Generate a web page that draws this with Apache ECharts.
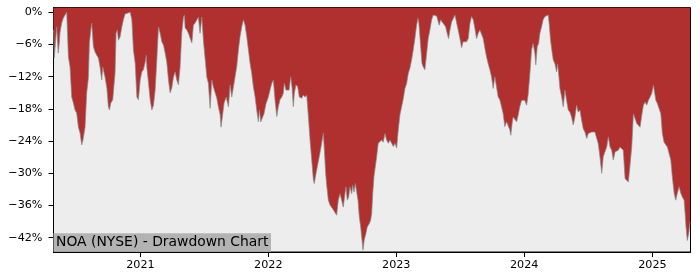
<!DOCTYPE html>
<html>
<head>
<meta charset="utf-8">
<script src="https://cdn.jsdelivr.net/npm/echarts@6/dist/echarts.min.js"></script>
<style>
html,body{margin:0;padding:0;background:#fff;}
#chart{width:700px;height:280px;}
</style>
</head>
<body>
<div id="chart"></div>
<script>
// Dates as decimal years
const years = [
2020.322,2020.328,2020.347,2020.352,2020.359,2020.367,2020.373,2020.386,2020.398,2020.412,2020.425,2020.438,2020.451,2020.464,2020.477,2020.490,2020.503,2020.516,2020.529,2020.542,
2020.552,2020.568,2020.581,2020.594,2020.602,2020.613,2020.620,2020.633,2020.646,2020.659,2020.672,2020.685,2020.698,2020.706,2020.716,2020.724,2020.738,2020.750,2020.758,2020.769,
2020.784,2020.795,2020.802,2020.810,2020.820,2020.828,2020.841,2020.855,2020.867,2020.880,2020.894,2020.920,2020.933,2020.945,2020.959,2020.972,2020.984,2020.998,
2021.011,2021.023,2021.037,2021.045,2021.050,2021.063,2021.076,2021.089,2021.102,2021.115,2021.128,2021.141,2021.154,2021.167,2021.180,2021.193,2021.206,2021.219,2021.232,2021.245,
2021.258,2021.271,2021.284,2021.297,2021.310,2021.323,2021.336,2021.344,2021.349,2021.363,2021.375,2021.388,2021.402,2021.414,2021.427,2021.441,2021.453,2021.466,2021.480,2021.492,
2021.505,2021.519,2021.531,2021.545,2021.558,2021.570,2021.584,2021.597,2021.609,2021.623,2021.630,2021.644,2021.654,2021.670,2021.688,2021.701,2021.714,2021.727,2021.740,2021.753,
2021.766,2021.779,2021.792,2021.805,2021.818,2021.831,2021.844,2021.857,2021.870,2021.883,2021.896,2021.909,2021.922,2021.930,2021.941,2021.956,2021.966,2021.982,
2022.000,2022.013,2022.027,2022.039,2022.052,2022.066,2022.078,2022.091,2022.105,2022.117,2022.125,2022.138,2022.148,2022.162,2022.175,2022.185,2022.195,2022.203,2022.216,2022.230,
2022.242,2022.261,2022.273,2022.287,2022.300,2022.313,2022.326,2022.339,2022.352,2022.359,2022.373,2022.383,2022.398,2022.417,2022.430,2022.438,2022.448,2022.456,2022.469,2022.482,
2022.495,2022.508,2022.521,2022.534,2022.547,2022.560,2022.573,2022.586,2022.599,2022.607,2022.617,2022.628,2022.638,2022.652,2022.659,2022.670,2022.680,2022.691,2022.701,2022.711,
2022.722,2022.732,2022.740,2022.750,2022.763,2022.773,2022.789,2022.800,2022.808,2022.816,2022.826,2022.836,2022.847,2022.859,2022.873,2022.886,2022.898,2022.912,2022.925,2022.938,
2022.951,2022.964,2022.977,2022.990,
2023.003,2023.016,2023.029,2023.042,2023.055,2023.068,2023.081,2023.094,2023.107,2023.120,2023.133,2023.146,2023.159,2023.170,2023.177,2023.191,2023.201,2023.211,2023.224,2023.238,
2023.250,2023.263,2023.277,2023.289,2023.302,2023.316,2023.328,2023.336,2023.347,2023.359,2023.373,2023.386,2023.398,2023.409,2023.420,2023.433,2023.445,2023.459,2023.472,2023.484,
2023.498,2023.511,2023.523,2023.537,2023.550,2023.563,2023.576,2023.589,2023.602,2023.615,2023.628,2023.641,2023.654,2023.667,2023.680,2023.693,2023.706,2023.719,2023.732,2023.745,
2023.758,2023.771,2023.784,2023.797,2023.810,2023.823,2023.836,2023.849,2023.863,2023.875,2023.888,2023.896,2023.906,2023.914,2023.927,2023.941,2023.953,2023.966,2023.980,2023.992,
2024.005,2024.019,2024.031,2024.045,2024.058,2024.070,2024.084,2024.091,2024.102,2024.113,2024.123,2024.136,2024.148,2024.162,2024.175,2024.188,2024.195,2024.206,2024.216,2024.227,
2024.240,2024.253,2024.261,2024.271,2024.279,2024.292,2024.305,2024.318,2024.331,2024.344,2024.357,2024.370,2024.383,2024.396,2024.409,2024.422,2024.435,2024.448,2024.461,2024.474,
2024.488,2024.500,2024.513,2024.527,2024.539,2024.552,2024.566,2024.578,2024.591,2024.605,2024.617,2024.630,2024.644,2024.656,2024.670,2024.683,2024.695,2024.709,2024.722,2024.734,
2024.748,2024.761,2024.773,2024.787,2024.800,2024.813,2024.826,2024.839,2024.852,2024.865,2024.878,2024.891,2024.904,2024.917,2024.930,2024.943,2024.956,2024.969,2024.982,2024.995,
2025.008,2025.016,2025.027,2025.039,2025.052,2025.066,2025.078,2025.091,2025.105,2025.117,2025.130,2025.144,2025.156,2025.170,2025.183,2025.195,2025.209,2025.222,2025.234,2025.248,2025.256,2025.263,2025.273,2025.284,2025.295
];

// Drawdown in percent
const drawdown = [
-3.3,-8.5,-2.7,-2.4,-7.6,-5.7,-3.7,-2.0,-1.1,-0.5,0,-8.3,-10.2,-15.8,-16.9,-18.2,-18.8,-21.4,-22.5,-24.7,
-23.8,-21.4,-15.0,-12.2,-5.7,-3.3,-2.0,-6.4,-7.4,-8.0,-8.5,-10.2,-12.6,-10.2,-10.4,-12.1,-14.1,-17.6,-18.2,-16.9,
-16.3,-16.0,-11.3,-3.9,-3.3,-5.2,-4.6,-2.7,-1.4,-0.3,0,0,-1.4,-7.0,-9.5,-15.8,-16.3,-12.6,
-11.1,-10.7,-9.3,-8.0,-10.2,-13.2,-16.3,-18.2,-17.3,-14.5,-8.9,-2.7,-3.9,-5.5,-6.1,-7.6,-9.3,-12.6,-15.0,-14.1,
-12.1,-11.1,-12.6,-13.5,-10.2,-3.9,-0.9,-0.5,-2.9,-3.3,-3.9,-4.8,-5.7,-2.4,-2.0,-1.8,-0.9,-3.9,-0.9,-5.2,
-8.5,-12.1,-13.2,-17.9,-12.6,-13.9,-15.0,-16.0,-17.6,-19.1,-21.4,-18.8,-16.9,-15.8,-17.6,-13.5,-15.8,-13.9,-12.0,-10.1,
-7.0,-4.5,-2.7,-1.4,-2.4,-4.5,-7.0,-9.5,-11.4,-13.9,-15.7,-18.2,-20.4,-18.2,-20.4,-20.7,-18.9,-17.0,
-15.8,-14.5,-13.2,-12.6,-16.3,-19.4,-17.6,-16.3,-15.8,-15.1,-13.2,-14.5,-14.2,-14.5,-12.0,-13.9,-17.6,-15.1,-13.5,-13.9,
-15.8,-16.0,-15.4,-15.8,-15.4,-19.4,-23.8,-27.5,-31.2,-31.9,-30.0,-29.7,-26.9,-24.4,-22.5,-25.7,-30.0,-32.2,-35.0,-35.9,
-35.6,-36.8,-36.8,-37.8,-35.0,-33.8,-35.0,-36.3,-33.8,-32.5,-35.0,-34.4,-32.5,-33.8,-32.2,-33.5,-31.9,-31.9,-35.0,-38.1,
-40.0,-42.4,-44.3,-42.4,-41.2,-40.0,-39.4,-38.7,-37.5,-33.8,-30.6,-28.8,-26.9,-24.4,-24.4,-23.8,-24.2,-22.6,-23.8,-24.4,
-23.8,-24.4,-25.0,-24.4,
-25.3,-21.9,-19.1,-17.6,-16.1,-14.2,-13.3,-11.4,-10.4,-8.9,-7.0,-4.9,-2.4,-1.1,-2.0,-6.4,-9.5,-10.2,-10.7,-7.6,
-4.9,-3.3,-1.4,-0.5,-0.3,-0.7,-0.8,-2.4,-1.4,-1.8,-2.1,-2.7,-3.9,-4.9,-3.3,-1.8,-1.2,-0.5,-0.5,-3.3,
-4.9,-6.6,-5.5,-5.2,-5.5,-4.9,-2.1,-0.8,-1.4,-3.0,-4.9,-3.9,-3.3,-3.0,-4.9,-6.7,-8.3,-9.6,-10.7,-12.0,
-14.2,-12.0,-13.9,-15.8,-16.3,-17.6,-18.9,-21.3,-20.4,-20.7,-21.9,-22.9,-20.7,-19.5,-19.8,-20.4,-19.2,-17.6,-16.4,-16.7,
-16.4,-17.3,-15.4,-11.4,-7.0,-5.8,-7.7,-9.8,-6.4,-5.8,-3.9,-2.7,-1.4,-0.8,-0.5,-0.5,-2.1,-5.2,-7.1,-8.9,
-9.6,-11.1,-9.6,-12.0,-14.2,-15.7,-17.6,-14.5,-16.4,-18.2,-18.6,-19.5,-21.0,-19.5,-17.3,-18.6,-18.2,-20.1,-21.7,-22.3,
-23.5,-22.6,-22.9,-22.3,-22.6,-22.3,-22.6,-24.5,-26.9,-30.0,-26.9,-26.0,-25.1,-23.2,-25.1,-25.7,-27.5,-26.0,-26.3,-25.7,
-25.1,-25.1,-25.7,-31.0,-31.3,-31.6,-31.9,-25.1,-18.9,-19.2,-20.7,-21.0,-21.4,-19.2,-17.3,-16.7,-17.3,-16.4,-15.8,-15.1,
-13.6,-13.3,-16.4,-17.0,-17.0,-18.9,-22.6,-24.2,-24.5,-25.1,-25.4,-27.5,-30.7,-33.7,-35.0,-33.7,-32.5,-33.7,-34.4,-35.0,-37.5,-40.0,-42.5,-41.2,-39.0
];

const yearTicks = [2021, 2022, 2023, 2024, 2025];
const pctTicks = [0, -6, -12, -18, -24, -30, -36, -42];
const titleText = 'NOA (NYSE) - Drawdown Chart';

function toTs(y) {
  const Y = Math.floor(y);
  const a = Date.UTC(Y, 0, 1), b = Date.UTC(Y + 1, 0, 1);
  return a + (y - Y) * (b - a);
}

const seriesData = years.map((y, i) => [toTs(y), drawdown[i]]);
const yearTs = yearTicks.map(y => Date.UTC(y, 0, 1));
const font = 'DejaVu Sans';

const chart = echarts.init(document.getElementById('chart'), null, {renderer: 'canvas'});
chart.setOption({
  animation: false,
  backgroundColor: '#ffffff',
  title: {
    text: titleText,
    left: 53.5,
    bottom: 28.3,
    padding: [1, 2.5, 1.5, 2.5],
    backgroundColor: '#b3b3b3',
    textStyle: {fontFamily: font, fontSize: 13.9, fontWeight: 'normal', color: '#000', lineHeight: 16}
  },
  grid: {
    left: 53.5, right: 9.5, top: 7.5, bottom: 28,
    show: true, backgroundColor: '#ededed', borderColor: '#000', borderWidth: 1
  },
  xAxis: {
    type: 'value',
    min: toTs(2020.322),
    max: toTs(2025.298),
    splitLine: {show: false},
    axisLine: {show: true, onZero: false, lineStyle: {color: '#000', width: 1}},
    axisTick: {show: true, length: 5, lineStyle: {color: '#000'}, customValues: yearTs},
    axisLabel: {
      customValues: yearTs,
      formatter: v => String(new Date(v).getUTCFullYear()),
      fontFamily: font, fontSize: 11.2, color: '#000', margin: 8
    }
  },
  yAxis: {
    type: 'value',
    min: -44.66,
    max: 0.894,
    splitLine: {show: false},
    axisLine: {show: true, onZero: false, lineStyle: {color: '#000', width: 1}},
    axisTick: {show: true, length: 5, lineStyle: {color: '#000'}, customValues: pctTicks},
    axisLabel: {
      customValues: pctTicks,
      formatter: v => (v < 0 ? '\u2212' : '') + Math.abs(v) + '%',
      fontFamily: font, fontSize: 11.2, color: '#000', margin: 11
    }
  },
  series: [{
    type: 'line',
    data: seriesData,
    showSymbol: false,
    smooth: false,
    lineStyle: {color: '#8a8a8a', width: 0.7},
    areaStyle: {color: '#b03030', opacity: 1, origin: 'end'},
    z: 2
  }]
});
</script>
</body>
</html>
